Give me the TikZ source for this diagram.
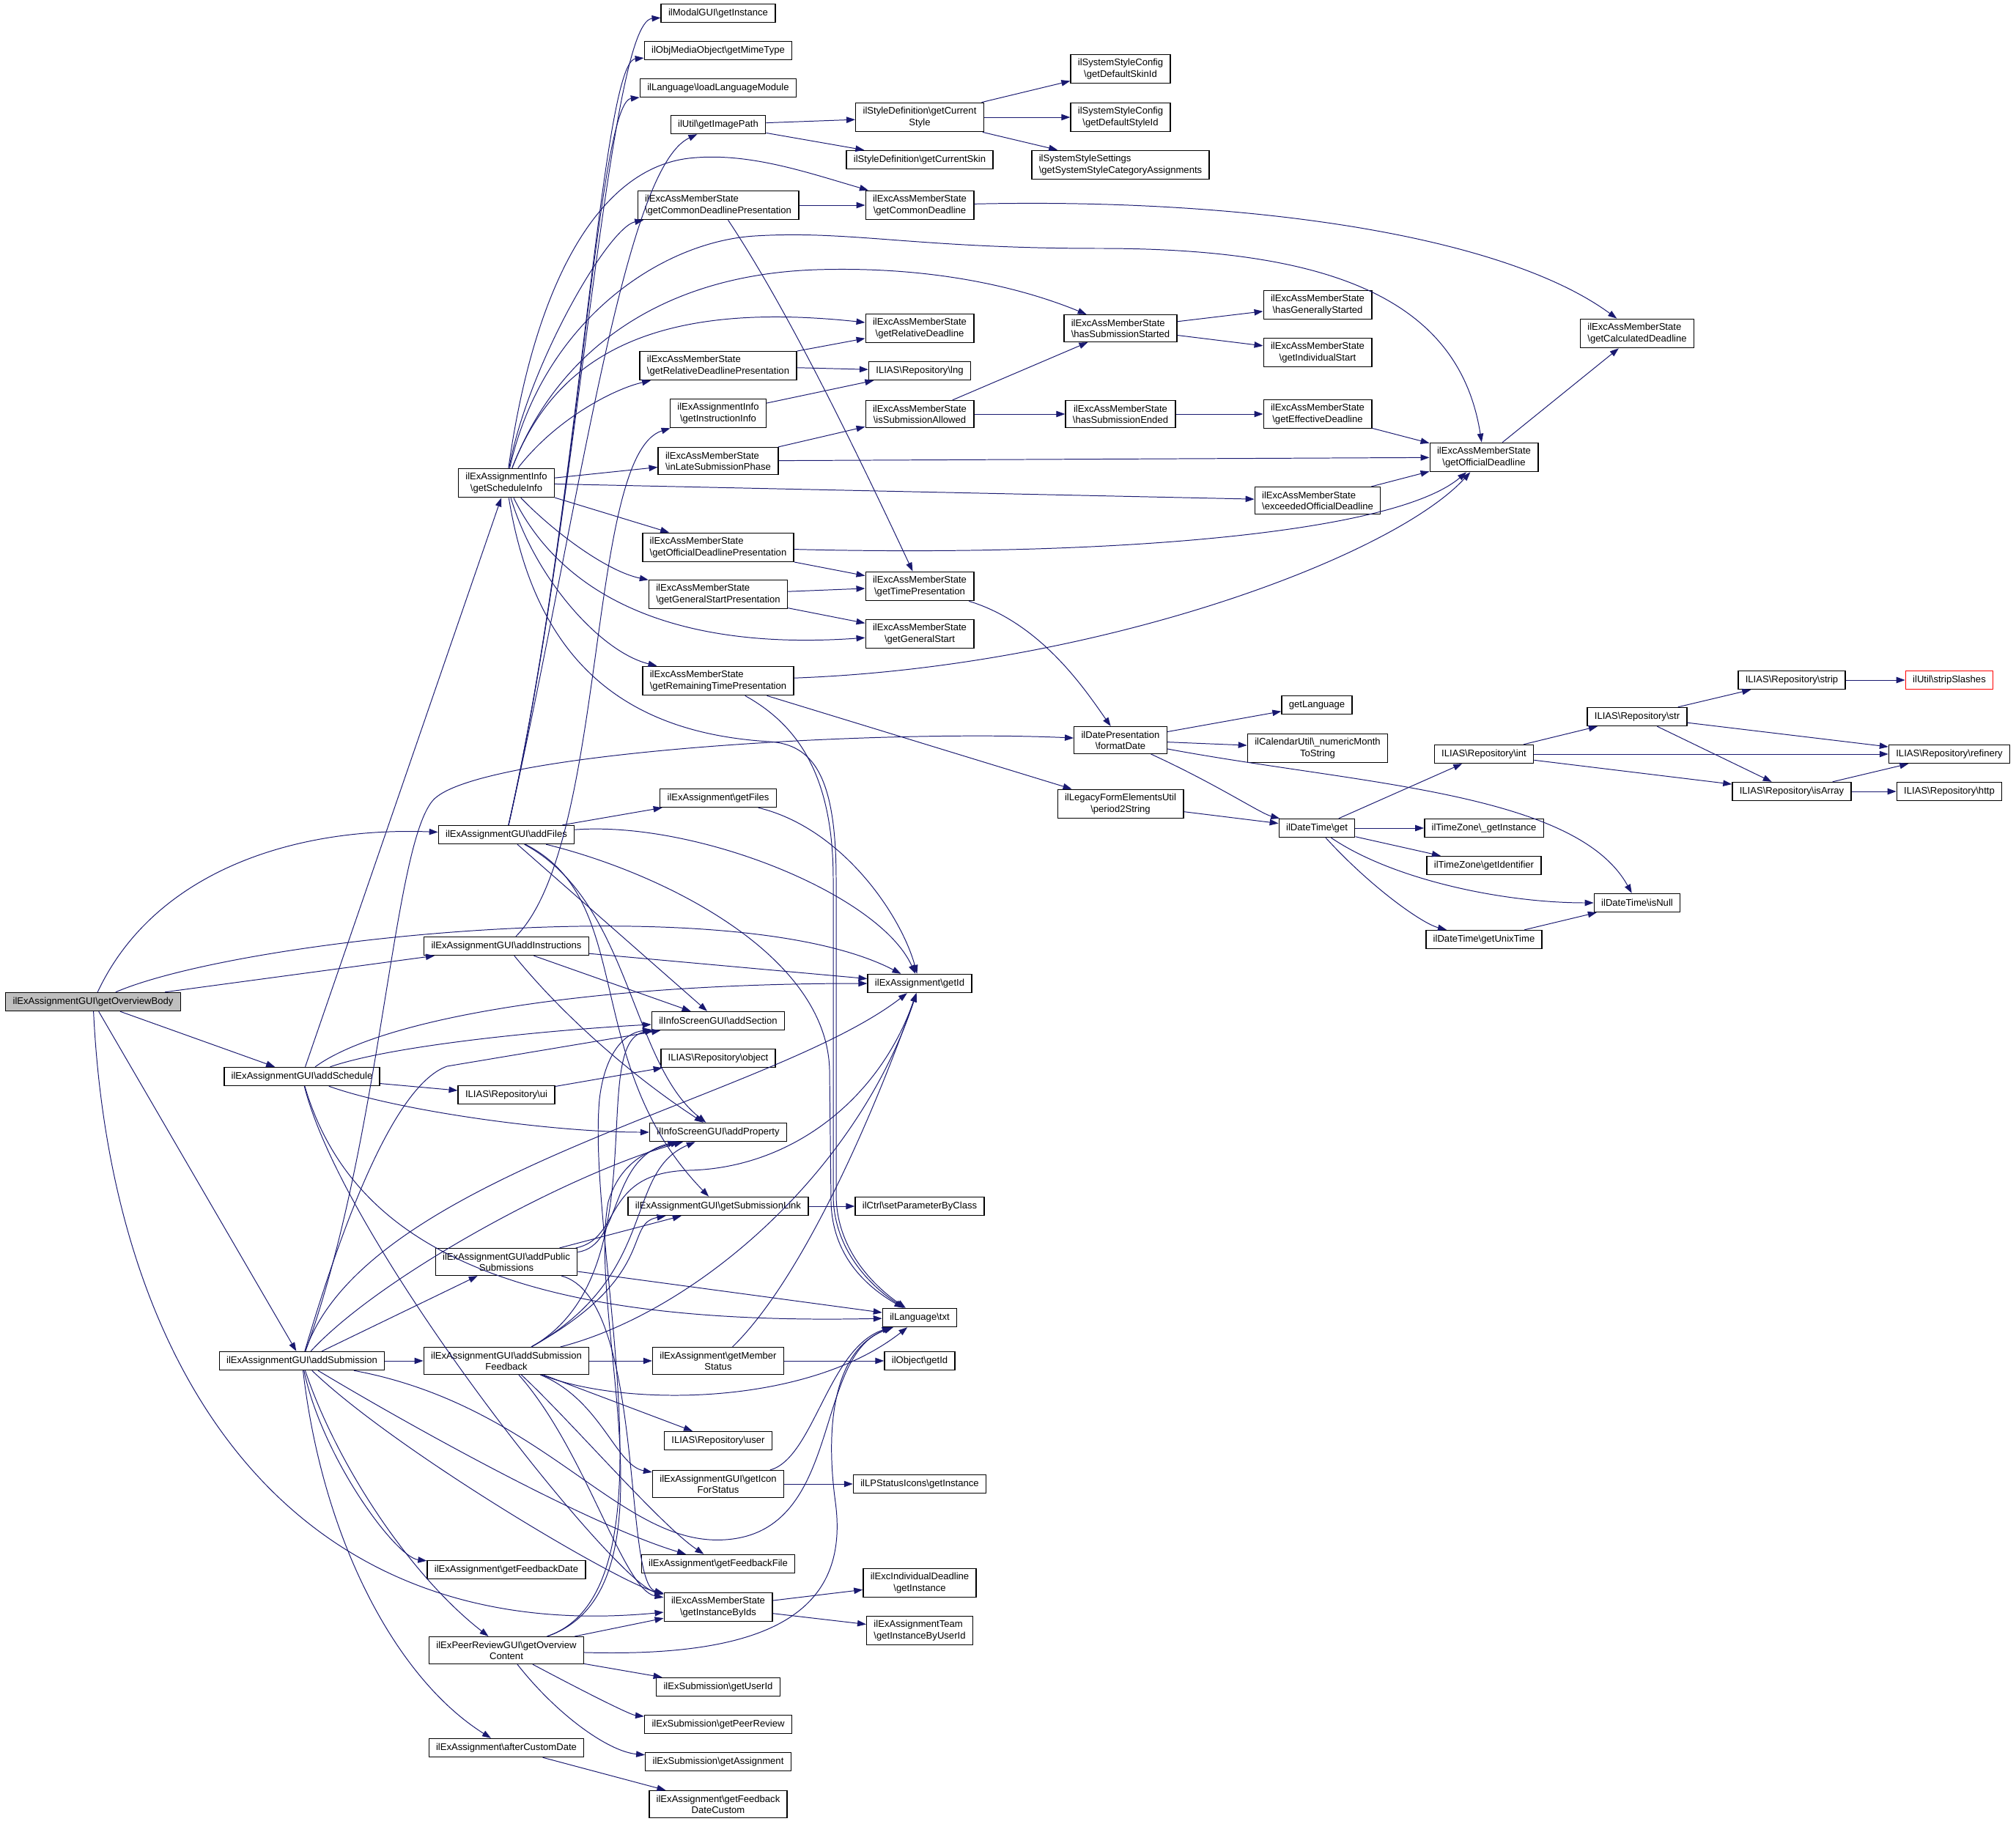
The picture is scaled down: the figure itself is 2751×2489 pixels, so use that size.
\documentclass[tikz,border=0pt]{standalone}
\usepackage{fontspec}
\setmainfont{Liberation Sans}
\usetikzlibrary{arrows.meta}
\definecolor{edgecol}{HTML}{191970}
\definecolor{rootgray}{HTML}{BFBFBF}
\newcommand{\bsl}{\textbackslash}

\begin{document}
\begin{tikzpicture}[->,>={Triangle[length=8.5pt,width=6pt]},x=0.025cm,y=-0.025cm,
		every edge/.style={draw=edgecol,line width=0.7pt}]
			\tikzstyle{fn}   = [rectangle,draw=black,line width=1pt,fill=white,inner xsep=7pt,inner ysep=4.2pt,minimum height=17.8pt,align=center,font=\fontsize{9.3}{10.9}\selectfont]
			\tikzstyle{fnl}  = [fn,align=left]
			\tikzstyle{root} = [fn,fill=rootgray]
			\tikzstyle{call} = [draw=edgecol,line width=0.7pt]
			\useasboundingbox (0,0) rectangle (2751,2489);
			
			\node[root] (overviewBody) at (127,1367) {ilExAssignmentGUI\bsl getOverviewBody};
			\node[fn] (addSchedule) at (412,1469) {ilExAssignmentGUI\bsl addSchedule};
			\node[fn] (addSubmission) at (412,1857) {ilExAssignmentGUI\bsl addSubmission};
			
			\node[fn] (scheduleInfo) at (691,659) {ilExAssignmentInfo\\\bsl getScheduleInfo};
			\node[fn] (addFiles) at (691,1139) {ilExAssignmentGUI\bsl addFiles};
			\node[fn] (addInstructions) at (691,1291) {ilExAssignmentGUI\bsl addInstructions};
			\node[fn] (repoUi) at (691,1494) {ILIAS\bsl Repository\bsl ui};
			\node[fn] (addPublic) at (691,1722) {ilExAssignmentGUI\bsl addPublic\\Submissions};
			\node[fn] (addFeedback) at (691,1857) {ilExAssignmentGUI\bsl addSubmission\\Feedback};
			\node[fn] (feedbackDate) at (691,2142) {ilExAssignment\bsl getFeedbackDate};
			\node[fn] (peerOverview) at (691,2252) {ilExPeerReviewGUI\bsl getOverview\\Content};
			\node[fn] (afterCustom) at (691,2385) {ilExAssignment\bsl afterCustomDate};
			
			\node[fn] (modalInst) at (980,18) {ilModalGUI\bsl getInstance};
			\node[fn] (mimeType) at (980,69) {ilObjMediaObject\bsl getMimeType};
			\node[fn] (loadLangMod) at (980,120) {ilLanguage\bsl loadLanguageModule};
			\node[fn] (imagePath) at (980,170) {ilUtil\bsl getImagePath};
			\node[fnl] (commonDlPres) at (980,280) {ilExcAssMemberState\\\bsl getCommonDeadlinePresentation};
			\node[fnl] (relDlPres) at (980,499) {ilExcAssMemberState\\\bsl getRelativeDeadlinePresentation};
			\node[fn] (instrInfo) at (980,564) {ilExAssignmentInfo\\\bsl getInstructionInfo};
			\node[fnl] (latePhase) at (980,629) {ilExcAssMemberState\\\bsl inLateSubmissionPhase};
			\node[fnl] (officialDlPres) at (980,747) {ilExcAssMemberState\\\bsl getOfficialDeadlinePresentation};
			\node[fnl] (genStartPres) at (980,811) {ilExcAssMemberState\\\bsl getGeneralStartPresentation};
			\node[fnl] (remainPres) at (980,929) {ilExcAssMemberState\\\bsl getRemainingTimePresentation};
			\node[fn] (getFiles) at (980,1089) {ilExAssignment\bsl getFiles};
			\node[fn] (addSection) at (980,1393) {ilInfoScreenGUI\bsl addSection};
			\node[fn] (repoObject) at (980,1444) {ILIAS\bsl Repository\bsl object};
			\node[fn] (addProperty) at (980,1545) {ilInfoScreenGUI\bsl addProperty};
			\node[fn] (subLink) at (980,1646) {ilExAssignmentGUI\bsl getSubmissionLink};
			\node[fn] (memberStatus) at (980,1857) {ilExAssignment\bsl getMember\\Status};
			\node[fn] (repoUser) at (980,1966) {ILIAS\bsl Repository\bsl user};
			\node[fn] (iconStatus) at (980,2025) {ilExAssignmentGUI\bsl getIcon\\ForStatus};
			\node[fn] (feedbackFile) at (980,2134) {ilExAssignment\bsl getFeedbackFile};
			\node[fn] (instByIds) at (980,2193) {ilExcAssMemberState\\\bsl getInstanceByIds};
			\node[fn] (subUserId) at (980,2302) {ilExSubmission\bsl getUserId};
			\node[fn] (subPeerReview) at (980,2353) {ilExSubmission\bsl getPeerReview};
			\node[fn] (subAssignment) at (980,2404) {ilExSubmission\bsl getAssignment};
			\node[fn] (fbDateCustom) at (980,2462) {ilExAssignment\bsl getFeedback\\DateCustom};
			
			\node[fn] (curStyle) at (1255,160) {ilStyleDefinition\bsl getCurrent\\Style};
			\node[fn] (curSkin) at (1255,218) {ilStyleDefinition\bsl getCurrentSkin};
			\node[fn] (commonDl) at (1255,280) {ilExcAssMemberState\\\bsl getCommonDeadline};
			\node[fn] (relDl) at (1255,448) {ilExcAssMemberState\\\bsl getRelativeDeadline};
			\node[fn] (repoLng) at (1255,506) {ILIAS\bsl Repository\bsl lng};
			\node[fn] (subAllowed) at (1255,565) {ilExcAssMemberState\\\bsl isSubmissionAllowed};
			\node[fn] (timePres) at (1255,800) {ilExcAssMemberState\\\bsl getTimePresentation};
			\node[fn] (genStart) at (1255,865) {ilExcAssMemberState\\\bsl getGeneralStart};
			\node[fn] (assGetId) at (1255,1342) {ilExAssignment\bsl getId};
			\node[fn] (setParam) at (1255,1646) {ilCtrl\bsl setParameterByClass};
			\node[fn] (langTxt) at (1255,1798) {ilLanguage\bsl txt};
			\node[fn] (objGetId) at (1255,1857) {ilObject\bsl getId};
			\node[fn] (lpIcons) at (1255,2025) {ilLPStatusIcons\bsl getInstance};
			\node[fn] (indivDl) at (1255,2160) {ilExcIndividualDeadline\\\bsl getInstance};
			\node[fnl] (teamInst) at (1255,2225) {ilExAssignmentTeam\\\bsl getInstanceByUserId};
			
			\node[fn] (skinId) at (1529,94) {ilSystemStyleConfig\\\bsl getDefaultSkinId};
			\node[fn] (styleId) at (1529,160) {ilSystemStyleConfig\\\bsl getDefaultStyleId};
			\node[fnl] (catAssign) at (1529,225) {ilSystemStyleSettings\\\bsl getSystemStyleCategoryAssignments};
			\node[fnl] (subStarted) at (1529,448) {ilExcAssMemberState\\\bsl hasSubmissionStarted};
			\node[fn] (subEnded) at (1529,565) {ilExcAssMemberState\\\bsl hasSubmissionEnded};
			\node[fn] (formatDate) at (1529,1010) {ilDatePresentation\\\bsl formatDate};
			\node[fn] (period2Str) at (1529,1097) {ilLegacyFormElementsUtil\\\bsl period2String};
			
			\node[fn] (genStarted) at (1798,416) {ilExcAssMemberState\\\bsl hasGenerallyStarted};
			\node[fn] (indivStart) at (1798,481) {ilExcAssMemberState\\\bsl getIndividualStart};
			\node[fn] (effDl) at (1798,565) {ilExcAssMemberState\\\bsl getEffectiveDeadline};
			\node[fnl] (exceededDl) at (1798,683) {ilExcAssMemberState\\\bsl exceededOfficialDeadline};
			\node[fn] (getLanguage) at (1797,962) {getLanguage};
			\node[fn] (numMonth) at (1798,1021) {ilCalendarUtil\bsl\_numericMonth\\ToString};
			\node[fn] (dtGet) at (1797,1130) {ilDateTime\bsl get};
			
			\node[fn] (officialDl) at (2025,624) {ilExcAssMemberState\\\bsl getOfficialDeadline};
			\node[fn] (repoInt) at (2025,1029) {ILIAS\bsl Repository\bsl int};
			\node[fn] (tzInst) at (2025,1130) {ilTimeZone\bsl\_getInstance};
			\node[fn] (tzIdent) at (2025,1181) {ilTimeZone\bsl getIdentifier};
			\node[fn] (unixTime) at (2025,1282) {ilDateTime\bsl getUnixTime};
			
			\node[fnl] (calcDl) at (2234,455) {ilExcAssMemberState\\\bsl getCalculatedDeadline};
			\node[fn] (repoStr) at (2234,978) {ILIAS\bsl Repository\bsl str};
			\node[fn] (isNull) at (2234,1232) {ilDateTime\bsl isNull};
			\node[fn] (repoStrip) at (2445,928) {ILIAS\bsl Repository\bsl strip};
			\node[fn] (isArray) at (2445,1080) {ILIAS\bsl Repository\bsl isArray};
			\node[fn,draw=red] (stripSlashes) at (2660,928) {ilUtil\bsl stripSlashes};
			\node[fn] (refinery) at (2660,1029) {ILIAS\bsl Repository\bsl refinery};
			\node[fn] (repoHttp) at (2660,1080) {ILIAS\bsl Repository\bsl http};
			
			\draw[call] (overviewBody) .. controls (210,1190) and (400,1128) .. (addFiles);
			\draw[call] (overviewBody) .. controls (330,1280) and (1000,1210) .. (assGetId);
			\path (overviewBody) edge (addInstructions);
			\path (overviewBody) edge (addSchedule);
			\path (overviewBody) edge (addSubmission);
			\draw[call] (overviewBody) .. controls (150,1850) and (380,2250) .. (instByIds);
			
			\path (addSchedule) edge (scheduleInfo);
			\path (addSchedule) edge (repoUi);
			\draw[call] (addSchedule) .. controls (520,1390) and (800,1342) .. (assGetId);
			\draw[call] (addSchedule) .. controls (540,1425) and (760,1405) .. (addSection);
			\draw[call] (addSchedule) .. controls (540,1515) and (750,1545) .. (addProperty);
			\draw[call] (addSchedule) .. controls (480,1700) and (700,1810) .. (langTxt);
			\draw[call] (addSchedule) .. controls (470,1700) and (840,2160) .. (instByIds);
			
			\draw[call] (addSubmission) .. controls (520,1560) and (535,1160) .. (590,1093) .. controls (645,1026) and (1200,995) .. (formatDate);
			\draw[call] (addSubmission) .. controls (500,1600) and (1050,1500) .. (assGetId);
			\draw[call] (addSubmission) .. controls (470,1660) and (540,1480) .. (610,1455) -- (addSection);
			\draw[call] (addSubmission) .. controls (520,1740) and (780,1600) .. (addProperty);
			\path (addSubmission) edge (addPublic);
			\path (addSubmission) edge (addFeedback);
			\draw[call] (addSubmission) .. controls (440,1990) and (540,2125) .. (feedbackDate);
			\draw[call] (addSubmission) .. controls (460,2000) and (560,2150) .. (peerOverview);
			\draw[call] (addSubmission) .. controls (440,2100) and (540,2290) .. (afterCustom);
			\draw[call] (addSubmission) .. controls (540,1980) and (845,2160) .. (instByIds);
			\draw[call] (addSubmission) .. controls (550,1940) and (800,2080) .. (feedbackFile);
			\draw[call] (addSubmission) .. controls (750,1920) and (850,2120) .. (1000,2100) .. controls (1150,2080) and (1110,1850) .. (langTxt);
			
			\draw[call] (addFiles) .. controls (790,700) and (830,30) .. (modalInst);
			\draw[call] (addFiles) .. controls (790,700) and (820,85) .. (mimeType);
			\draw[call] (addFiles) .. controls (790,700) and (815,140) .. (loadLangMod);
			\draw[call] (addFiles) .. controls (790,700) and (850,230) .. (imagePath);
			\path (addFiles) edge (getFiles);
			\draw[call] (addFiles) .. controls (950,1120) and (1200,1220) .. (assGetId);
			\draw[call] (addFiles) .. controls (900,1190) and (1128,1300) .. (1132,1460) -- (1134,1640) .. controls (1136,1720) and (1190,1760) .. (langTxt);
			\path (addFiles) edge (addSection);
			\draw[call] (addFiles) .. controls (860,1230) and (860,1450) .. (addProperty);
			\draw[call] (addFiles) .. controls (870,1230) and (790,1450) .. (subLink);
			
			\draw[call] (addInstructions) .. controls (830,1150) and (800,620) .. (instrInfo);
			\path (addInstructions) edge (assGetId);
			\path (addInstructions) edge (addSection);
			\draw[call] (addInstructions) .. controls (780,1400) and (880,1480) .. (addProperty);
			\path (repoUi) edge (repoObject);
			
			\path (addPublic) edge (subLink);
			\draw[call] (addPublic) .. controls (850,1700) and (830,1580) .. (addProperty);
			\draw[call] (addPublic) .. controls (850,1690) and (820,1600) .. (940,1597) .. controls (1080,1594) and (1200,1500) .. (assGetId);
			\path (addPublic) edge (langTxt);
			\draw[call] (addPublic) .. controls (880,1770) and (850,2160) .. (instByIds);
			
			\path (addFeedback) edge (memberStatus);
			\path (addFeedback) edge (repoUser);
			\draw[call] (addFeedback) .. controls (820,1910) and (840,2000) .. (iconStatus);
			\draw[call] (addFeedback) .. controls (780,1940) and (900,2080) .. (feedbackFile);
			\draw[call] (addFeedback) .. controls (800,1980) and (850,2170) .. (instByIds);
			\draw[call] (addFeedback) .. controls (850,1920) and (1100,1920) .. (langTxt);
			\draw[call] (addFeedback) .. controls (950,1790) and (1170,1600) .. (assGetId);
			\draw[call] (addFeedback) .. controls (900,1740) and (800,1420) .. (addSection);
			\draw[call] (addFeedback) .. controls (900,1740) and (850,1600) .. (addProperty);
			\draw[call] (addFeedback) .. controls (900,1740) and (850,1670) .. (subLink);
			
			\draw[call] (memberStatus) .. controls (1100,1740) and (1200,1500) .. (assGetId);
			\path (memberStatus) edge (objGetId);
			\draw[call] (iconStatus) .. controls (1110,1990) and (1130,1840) .. (langTxt);
			\path (iconStatus) edge (lpIcons);
			\draw[call] (getFiles) .. controls (1150,1130) and (1230,1250) .. (assGetId);
			\path (subLink) edge (setParam);
			\path (instByIds) edge (indivDl);
			\path (instByIds) edge (teamInst);
			
			\path (peerOverview) edge (instByIds);
			\path (peerOverview) edge (subUserId);
			\draw[call] (peerOverview) .. controls (800,2310) and (860,2340) .. (subPeerReview);
			\draw[call] (peerOverview) .. controls (760,2340) and (830,2390) .. (subAssignment);
			\draw[call] (peerOverview) .. controls (1050,2262) and (1160,2200) .. (1140,2050) .. controls (1125,1940) and (1140,1840) .. (langTxt);
			\draw[call] (peerOverview) .. controls (930,2170) and (800,1700) .. (818,1500) .. controls (825,1440) and (850,1410) .. (addSection);
			\draw[call] (peerOverview) .. controls (930,2170) and (800,1800) .. (830,1640) .. controls (845,1590) and (880,1570) .. (addProperty);
			\path (afterCustom) edge (fbDateCustom);
			
			\draw[call] (scheduleInfo) .. controls (720,500) and (830,310) .. (commonDlPres);
			\draw[call] (scheduleInfo) .. controls (730,380) and (820,230) .. (940,216) .. controls (1020,207) and (1100,235) .. (commonDl);
			\draw[call] (scheduleInfo) .. controls (740,440) and (900,330) .. (1030,322) .. controls (1160,314) and (1250,339) .. (1500,339) .. controls (1800,339) and (1990,400) .. (officialDl);
			\draw[call] (scheduleInfo) .. controls (760,480) and (900,375) .. (1115,368) .. controls (1280,363) and (1400,395) .. (subStarted);
			\draw[call] (scheduleInfo) .. controls (760,480) and (900,410) .. (relDl);
			\draw[call] (scheduleInfo) .. controls (760,570) and (840,530) .. (relDlPres);
			\path (scheduleInfo) edge (latePhase);
			\path (scheduleInfo) edge (exceededDl);
			\path (scheduleInfo) edge (officialDlPres);
			\draw[call] (scheduleInfo) .. controls (760,730) and (830,780) .. (genStartPres);
			\draw[call] (scheduleInfo) .. controls (760,800) and (900,890) .. (genStart);
			\draw[call] (scheduleInfo) .. controls (730,790) and (820,890) .. (remainPres);
			\draw[call] (scheduleInfo) .. controls (730,900) and (850,1000) .. (1050,1012) .. controls (1110,1016) and (1141,1060) .. (1141,1200) -- (1141,1630) .. controls (1141,1710) and (1200,1760) .. (langTxt);
			
			\path (imagePath) edge (curStyle);
			\path (imagePath) edge (curSkin);
			\path (curStyle) edge (skinId);
			\path (curStyle) edge (styleId);
			\path (curStyle) edge (catAssign);
			\path (commonDlPres) edge (commonDl);
			\draw[call] (commonDlPres) .. controls (1080,430) and (1180,640) .. (timePres);
			\draw[call] (commonDl) .. controls (1700,270) and (2050,320) .. (calcDl);
			\path (relDlPres) edge (relDl);
			\path (relDlPres) edge (repoLng);
			\path (instrInfo) edge (repoLng);
			\path (subAllowed) edge (subStarted);
			\path (subAllowed) edge (subEnded);
			\path (subStarted) edge (genStarted);
			\path (subStarted) edge (indivStart);
			\path (subEnded) edge (effDl);
			\path (effDl) edge (officialDl);
			\path (latePhase) edge (subAllowed);
			\path (latePhase) edge (officialDl);
			\path (exceededDl) edge (officialDl);
			\draw[call] (officialDlPres) .. controls (1500,760) and (1900,730) .. (officialDl);
			\path (officialDlPres) edge (timePres);
			\path (genStartPres) edge (timePres);
			\path (genStartPres) edge (genStart);
			\draw[call] (remainPres) .. controls (1500,910) and (1900,760) .. (officialDl);
			\path (remainPres) edge (period2Str);
			\draw[call] (remainPres) .. controls (1090,990) and (1137,1060) .. (1137,1200) -- (1137,1630) .. controls (1137,1710) and (1195,1760) .. (langTxt);
			\path (officialDl) edge (calcDl);
			
			\draw[call] (timePres) .. controls (1420,850) and (1480,940) .. (formatDate);
			\path (formatDate) edge (getLanguage);
			\path (formatDate) edge (numMonth);
			\draw[call] (formatDate) .. controls (1660,1070) and (1720,1110) .. (dtGet);
			\draw[call] (formatDate) .. controls (1850,1070) and (2150,1080) .. (isNull);
			\path (period2Str) edge (dtGet);
			\path (dtGet) edge (repoInt);
			\path (dtGet) edge (tzInst);
			\path (dtGet) edge (tzIdent);
			\draw[call] (dtGet) .. controls (1900,1200) and (2050,1232) .. (isNull);
			\draw[call] (dtGet) .. controls (1870,1210) and (1940,1260) .. (unixTime);
			\path (unixTime) edge (isNull);
			\path (repoInt) edge (repoStr);
			\path (repoInt) edge (refinery);
			\path (repoInt) edge (isArray);
			\path (repoStr) edge (repoStrip);
			\path (repoStr) edge (refinery);
			\path (repoStr) edge (isArray);
			\path (repoStrip) edge (stripSlashes);
			\path (isArray) edge (refinery);
			\path (isArray) edge (repoHttp);
		\end{tikzpicture}
\end{document}
